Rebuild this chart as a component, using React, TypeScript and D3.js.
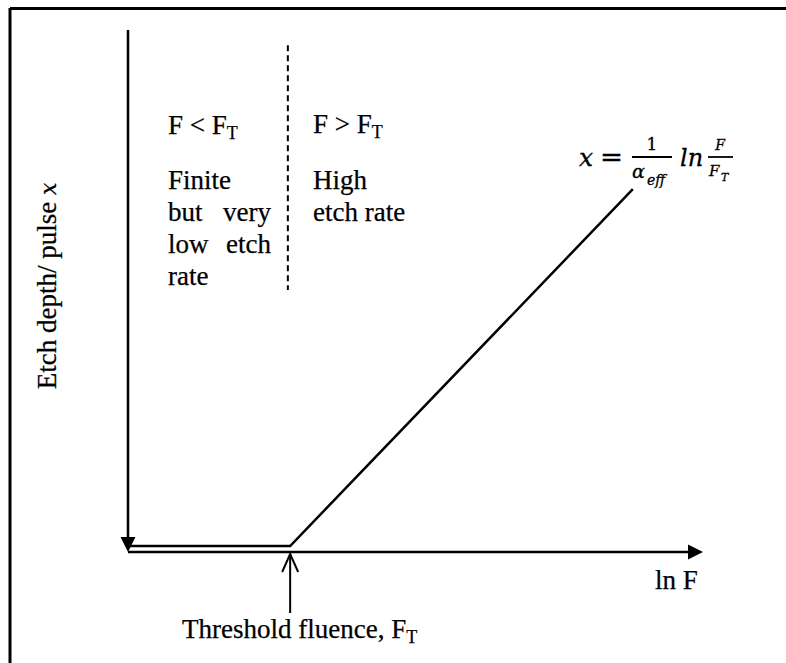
import React from "react";
import * as d3 from "d3";

// Conceptual data (arbitrary units): ln F vs etch depth per pulse
const lnF = [0, 28.2, 87.8];
const depth = [1.15, 1.15, 69.5];
// threshold position (ln F_T)
const thresholdLnF = 28.2;
const dashedLnF = 27.8;
const dashedDepth = [97.1, 50.2];

const regionLeftLines = ["Finite", "but|very", "low|etch", "rate"];
const regionRightLines = ["High", "etch rate"];

const W = 786;
const H = 663;
const SERIF = "'Liberation Serif', 'Times New Roman', serif";
const MATH = "'DejaVu Serif', serif";

export default function App() {
  const x = d3.scaleLinear().domain([0, 100]).range([128, 703]);
  const y = d3.scaleLinear().domain([0, 100]).range([552, 30]);

  const pts: [number, number][] = lnF.map((v, i) => [x(v), y(depth[i])]);
  const line = d3.line<[number, number]>()(pts) || "";

  const x0 = x(0);
  const y0 = y(0);
  const xEnd = x(100);
  const yTop = y(100);

  const thX = x(thresholdLnF);
  const dashX = x(dashedLnF);

  const leftX = 168;
  const leftEnd = 271;
  const rightX = 313;
  const lineGap = 32;
  const firstBase = 189;

  return (
    <svg width={W} height={H} style={{ position: "absolute", left: 0, top: 0, background: "#fff" }}>
      <rect x={0} y={0} width={W} height={H} fill="#fff" />
      {/* frame */}
      <line x1={10} y1={8.5} x2={W} y2={8.5} stroke="#000" strokeWidth={3} />
      <line x1={10} y1={8} x2={10} y2={H} stroke="#000" strokeWidth={3} />

      {/* y axis with downward arrow */}
      <line x1={x0} y1={yTop} x2={x0} y2={y0 - 14} stroke="#000" strokeWidth={2.5} />
      <path d={`M${x0 - 7.5},${y0 - 15} L${x0 + 7.5},${y0 - 15} L${x0},${y0} Z`} fill="#000" />

      {/* x axis with right arrow */}
      <line x1={x0} y1={y0} x2={xEnd - 14} y2={y0} stroke="#000" strokeWidth={2.5} />
      <path d={`M${xEnd - 15},${y0 - 7.5} L${xEnd - 15},${y0 + 7.5} L${xEnd},${y0} Z`} fill="#000" />

      {/* etch depth curve */}
      <path d={line} fill="none" stroke="#000" strokeWidth={2.5} />

      {/* dashed threshold divider */}
      <line
        x1={dashX}
        y1={y(dashedDepth[0])}
        x2={dashX}
        y2={y(dashedDepth[1])}
        stroke="#000"
        strokeWidth={2}
        strokeDasharray="6,4"
      />

      {/* threshold arrow */}
      <line x1={thX} y1={y0 + 2} x2={thX} y2={y0 + 61} stroke="#000" strokeWidth={2} />
      <path
        d={`M${thX - 8},${y0 + 20} L${thX},${y0 + 2} L${thX + 8},${y0 + 20}`}
        fill="none"
        stroke="#000"
        strokeWidth={2}
      />

      <g fontFamily={SERIF} fontSize={27} fill="#000" stroke="#000" strokeWidth={0.25}>
        {/* region headers */}
        <text x={leftX} y={134}>
          F &lt; F<tspan fontSize={18} dy={5}>T</tspan>
        </text>
        <text x={rightX} y={133}>
          F &gt; F<tspan fontSize={18} dy={5}>T</tspan>
        </text>

        {regionLeftLines.map((l, i) => {
          const yy = firstBase + i * lineGap;
          const parts = l.split("|");
          if (parts.length === 2) {
            return (
              <g key={i}>
                <text x={leftX} y={yy}>{parts[0]}</text>
                <text x={leftEnd} y={yy} textAnchor="end">{parts[1]}</text>
              </g>
            );
          }
          return (
            <text key={i} x={leftX} y={yy}>{l}</text>
          );
        })}
        {regionRightLines.map((l, i) => (
          <text key={i} x={rightX} y={firstBase + i * lineGap}>{l}</text>
        ))}

        {/* axis labels */}
        <text x={655} y={589}>ln F</text>
        <text x={182} y={638}>
          Threshold fluence, F<tspan fontSize={18} dy={5}>T</tspan>
        </text>
        <text transform={`translate(56,286) rotate(-90)`} textAnchor="middle">
          Etch depth/ pulse <tspan fontStyle="italic" fontFamily={MATH} fontSize={22}>x</tspan>
        </text>
      </g>

      {/* formula */}
      <g fontFamily={MATH} fill="#000" fontStyle="italic" stroke="#000" strokeWidth={0.3}>
        <text x={579} y={166} fontSize={25}>x</text>
        <text x={600} y={166} fontSize={26} fontStyle="normal" textLength={23} lengthAdjust="spacingAndGlyphs">=</text>
        <line x1={632} y1={157} x2={672} y2={157} stroke="#000" strokeWidth={1.8} />
        <text x={652} y={150} fontSize={17} fontStyle="normal" textAnchor="middle">1</text>
        <text x={632} y={178} fontSize={19}>α</text>
        <text x={647} y={185} fontSize={14}>eff</text>
        <text x={680} y={166} fontSize={24}>ln</text>
        <line x1={708} y1={157} x2={733} y2={157} stroke="#000" strokeWidth={1.8} />
        <text x={720} y={150} fontSize={14} textAnchor="middle">F</text>
        <text x={709} y={176} fontSize={15}>F</text>
        <text x={721} y={181} fontSize={11}>T</text>
      </g>
    </svg>
  );
}
